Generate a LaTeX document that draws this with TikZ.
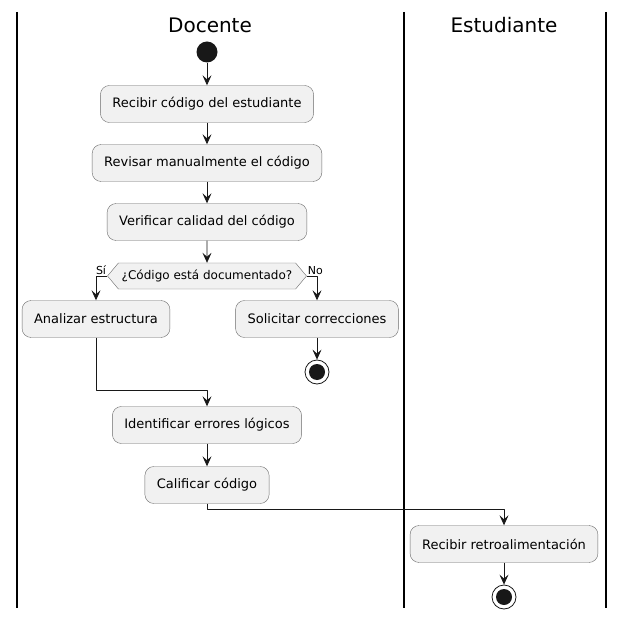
\documentclass[tikz,border=0pt]{standalone}
\usepackage{fontspec}
\setmainfont{DejaVu Sans}
\usetikzlibrary{arrows.meta,shapes.symbols}
\definecolor{actfill}{HTML}{F1F1F1}
\definecolor{actline}{HTML}{6A6A6A}
\definecolor{tinta}{HTML}{181818}
\tikzset{
  accion/.style={draw=actline, fill=actfill, rounded corners=9pt,
    minimum height=37pt, inner xsep=12pt, font=\fontsize{13}{15}\selectfont},
  decision/.style={draw=actline, fill=actfill, signal, signal to=east and west,
    signal pointer angle=100, minimum width=199pt, minimum height=26pt,
    inner sep=2pt, font=\fontsize{12}{14}\selectfont},
  flecha/.style={draw=tinta, line width=0.8pt,
    -{Stealth[length=10pt,width=9pt,inset=4pt]}},
  inicio/.style={circle, fill=tinta, minimum size=21pt, inner sep=0pt},
  fin/.style={circle, draw=tinta, line width=0.8pt, fill=white,
    minimum size=24pt, inner sep=0pt,
    path picture={\fill[tinta] (path picture bounding box.center) circle (8pt);}},
  carril/.style={draw=black, line width=1.3pt},
  titulo/.style={font=\fontsize{20}{24}\selectfont},
  etiqueta/.style={font=\fontsize{11}{13}\selectfont, inner sep=1pt},
}
\begin{document}
\begin{tikzpicture}[x=1pt, y=-1pt, line join=round]
\useasboundingbox (0,0) rectangle (623,620);
% carriles
\draw[carril] (17,12)--(17,608);
\draw[carril] (404,12)--(404,608);
\draw[carril] (606,12)--(606,608);
\node[titulo] (docente) at (210,25) {Docente};
\node[titulo] (estudiante) at (504,25) {Estudiante};
% docente
\node[inicio] (ini) at (207,52) {};
\node[accion] (recibir) at (207,104) {Recibir código del estudiante};
\node[accion] (revisar) at (207,163) {Revisar manualmente el código};
\node[accion] (verificar) at (207,222) {Verificar calidad del código};
\node[decision] (doc) at (207,276) {¿Código está documentado?};
\node[accion] (analizar) at (96,319) {Analizar estructura};
\node[accion] (solicitar) at (317,319) {Solicitar correcciones};
\node[fin] (fin1) at (317,372) {};
\node[accion] (identificar) at (207,425) {Identificar errores lógicos};
\node[accion] (calificar) at (207,485) {Calificar código};
% estudiante
\node[accion] (retro) at (504,544) {Recibir retroalimentación};
\node[fin] (fin2) at (504,597) {};
\path
(207,390) coordinate (union)
(504,509) coordinate (cruce)
;
\node[etiqueta, anchor=south east] (si) at (doc.west) {Sí};
\node[etiqueta, anchor=south west] (no) at (doc.east) {No};
\draw[flecha] (ini)--(recibir);
\draw[flecha] (recibir)--(revisar);
\draw[flecha] (revisar)--(verificar);
\draw[flecha] (verificar)--(doc);
\draw[flecha] (doc.west) -| (analizar);
\draw[flecha] (doc.east) -| (solicitar);
\draw[flecha] (solicitar)--(fin1);
\draw[flecha] (analizar) |- (union)--(identificar);
\draw[flecha] (identificar)--(calificar);
\draw[flecha] (calificar) |- (cruce)--(retro);
\draw[flecha] (retro)--(fin2);
\end{tikzpicture}
\end{document}
